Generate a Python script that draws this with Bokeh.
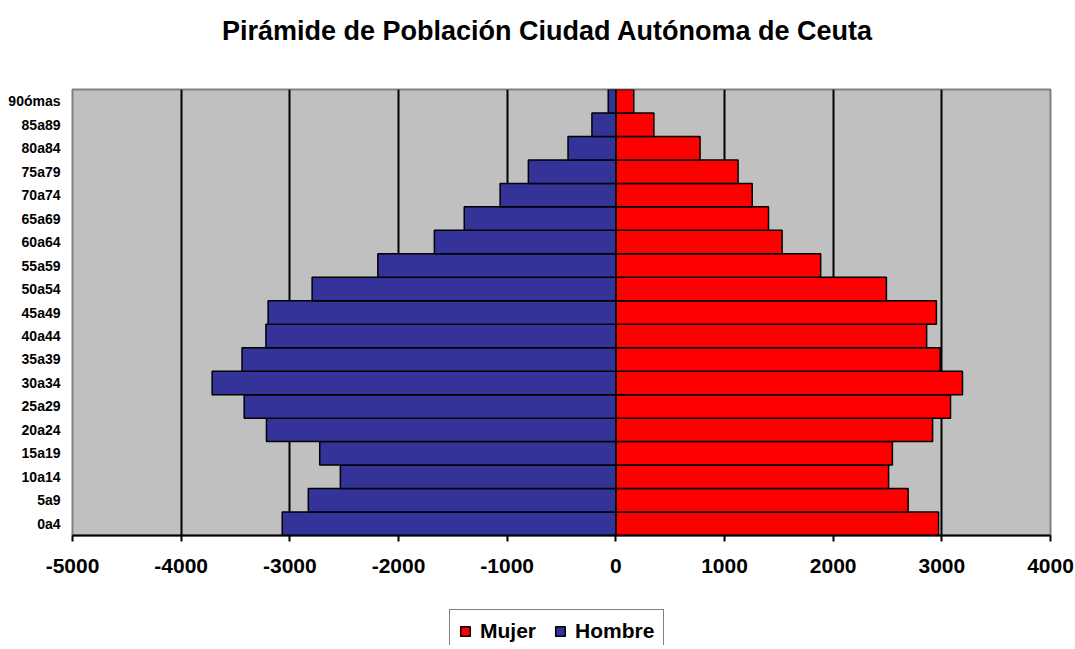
from bokeh.plotting import figure
from bokeh.layouts import column
from bokeh.models import (FactorRange, Range1d, FixedTicker, Legend, LegendItem,
                          ColumnDataSource, Label, PrintfTickFormatter)
from bokeh.embed import file_html
from bokeh.resources import INLINE

# ---- data ----
grupos = ["0a4", "5a9", "10a14", "15a19", "20a24", "25a29", "30a34", "35a39",
          "40a44", "45a49", "50a54", "55a59", "60a64", "65a69", "70a74",
          "75a79", "80a84", "85a89", "90ómas"]
hombre = [3070, 2830, 2535, 2725, 3215, 3420, 3715, 3440, 3220, 3200, 2795,
          2190, 1670, 1395, 1065, 805, 440, 220, 70]
mujer = [2970, 2690, 2510, 2545, 2915, 3080, 3190, 2985, 2860, 2950, 2490,
         1885, 1530, 1405, 1255, 1125, 775, 350, 165]
x_ticks = [-5000, -4000, -3000, -2000, -1000, 0, 1000, 2000, 3000, 4000]
titulo = "Pirámide de Población Ciudad Autónoma de Ceuta"
series = ["Mujer", "Hombre"]

FONT = "Liberation Sans"
W = 1075

src = ColumnDataSource(dict(
    grupo=grupos,
    h_left=[-v for v in hombre],
    zero=[0] * len(grupos),
    m_right=mujer,
))


def bare(fig):
    fig.background_fill_color = "white"
    fig.border_fill_color = "white"
    fig.outline_line_color = None
    fig.xgrid.grid_line_color = None
    fig.ygrid.grid_line_color = None


# ---- title strip ----
t = figure(width=W, height=80, output_backend="svg", toolbar_location=None,
           x_axis_location=None, y_axis_location=None,
           min_border_left=0, min_border_right=0, min_border_top=0, min_border_bottom=0)
bare(t)
t.add_layout(Label(x=475, y=50, x_units="screen", y_units="screen", text=titulo,
                   text_font=FONT, text_font_style="bold", text_font_size="27px",
                   text_color="black", text_align="center", text_baseline="alphabetic"))

# ---- main chart ----
p = figure(width=W, height=520, output_backend="svg", toolbar_location=None,
           y_range=FactorRange(*grupos), x_range=Range1d(-5000, 4000),
           min_border_left=72, min_border_right=25, min_border_top=9,
           min_border_bottom=65)

p.background_fill_color = "#C0C0C0"
p.border_fill_color = "white"
p.outline_line_color = "#808080"
p.outline_line_width = 2

p.ygrid.grid_line_color = None
p.xgrid.grid_line_color = "black"
p.xgrid.grid_line_width = 2
p.xgrid.ticker = FixedTicker(ticks=x_ticks)

p.xaxis.ticker = FixedTicker(ticks=x_ticks)
p.xaxis.formatter = PrintfTickFormatter(format="%d")
p.xaxis.axis_line_color = "black"
p.xaxis.axis_line_width = 2
p.xaxis.major_tick_line_color = "black"
p.xaxis.major_tick_line_width = 2
p.xaxis.major_tick_out = 6
p.xaxis.major_tick_in = 0
p.xaxis.minor_tick_line_color = None
p.xaxis.major_label_text_font = FONT
p.xaxis.major_label_text_font_style = "bold"
p.xaxis.major_label_text_font_size = "21px"
p.xaxis.major_label_text_color = "black"
p.xaxis.major_label_standoff = 17

p.yaxis.axis_line_color = None
p.yaxis.major_tick_line_color = None
p.yaxis.major_tick_out = 0
p.yaxis.major_tick_in = 0
p.yaxis.major_label_text_font = FONT
p.yaxis.major_label_text_font_style = "bold"
p.yaxis.major_label_text_font_size = "14px"
p.yaxis.major_label_text_color = "black"
p.yaxis.major_label_standoff = 12

p.hbar(y="grupo", left="zero", right="m_right", height=1.0, source=src,
       fill_color="#FF0000", line_color="black", line_width=1.5)
p.hbar(y="grupo", left="h_left", right="zero", height=1.0, source=src,
       fill_color="#333399", line_color="black", line_width=1.5)

# ---- legend strip ----
lg = figure(width=W, height=45, output_backend="svg", toolbar_location=None,
            y_range=FactorRange(*grupos), x_range=Range1d(-5000, 4000),
            x_axis_location=None, y_axis_location=None,
            min_border_left=0, min_border_right=0, min_border_top=0, min_border_bottom=0)
bare(lg)
lm = lg.hbar(y="grupo", left="zero", right="m_right", height=1.0, source=src,
             fill_color="#FF0000", line_color="black", line_width=1.5, visible=False)
lh = lg.hbar(y="grupo", left="h_left", right="zero", height=1.0, source=src,
             fill_color="#333399", line_color="black", line_width=1.5, visible=False)
legend = Legend(items=[LegendItem(label=series[0], renderers=[lm]),
                       LegendItem(label=series[1], renderers=[lh])],
                orientation="horizontal", location=(377, -8),
                label_text_font=FONT, label_text_font_style="bold",
                label_text_font_size="21px", label_text_color="black",
                glyph_width=12, glyph_height=12, label_standoff=9,
                spacing=18, padding=9, margin=0,
                inactive_fill_alpha=0.0,
                border_line_color="black", border_line_width=1.5,
                background_fill_color="white", background_fill_alpha=1.0)
lg.add_layout(legend, "center")

layout = column(t, p, lg, spacing=0)
open("out.html", "w").write(file_html(layout, INLINE))
